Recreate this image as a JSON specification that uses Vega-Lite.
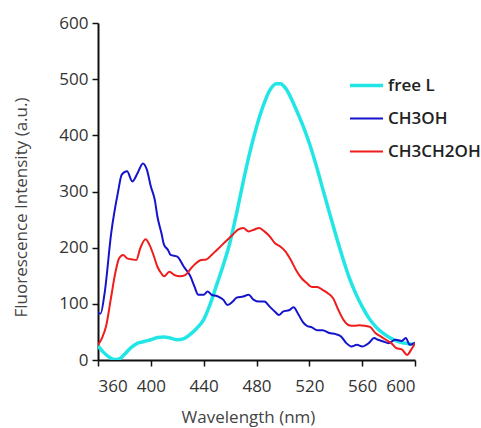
{
  "$schema": "https://vega.github.io/schema/vega-lite/v6.json",
  "width": 317,
  "height": 337,
  "autosize": "none",
  "padding": {"left": 98, "top": 23, "right": 66, "bottom": 68},
  "background": "white",
  "config": {
    "view": {"stroke": null},
    "font": "Open Sans",
    "axis": {
      "grid": false,
      "domainColor": "#111",
      "domainWidth": 2,
      "tickColor": "#111",
      "tickWidth": 1.5,
      "tickSize": 6,
      "labelFont": "Open Sans",
      "labelFontSize": 17,
      "labelColor": "#333",
      "titleFont": "Open Sans",
      "titleFontSize": 17,
      "titleFontWeight": "normal",
      "titleColor": "#444"
    }
  },
  "data": {"values": [
    {"wl": 360, "series": "free L", "v": 25},
    {"wl": 364, "series": "free L", "v": 14},
    {"wl": 368, "series": "free L", "v": 6},
    {"wl": 372, "series": "free L", "v": 1},
    {"wl": 376, "series": "free L", "v": 2},
    {"wl": 380, "series": "free L", "v": 10},
    {"wl": 385, "series": "free L", "v": 22},
    {"wl": 390, "series": "free L", "v": 30},
    {"wl": 395, "series": "free L", "v": 33},
    {"wl": 400, "series": "free L", "v": 36},
    {"wl": 405, "series": "free L", "v": 40},
    {"wl": 410, "series": "free L", "v": 41},
    {"wl": 415, "series": "free L", "v": 39},
    {"wl": 420, "series": "free L", "v": 36},
    {"wl": 425, "series": "free L", "v": 38},
    {"wl": 430, "series": "free L", "v": 46},
    {"wl": 435, "series": "free L", "v": 57},
    {"wl": 440, "series": "free L", "v": 72},
    {"wl": 445, "series": "free L", "v": 100},
    {"wl": 450, "series": "free L", "v": 135},
    {"wl": 455, "series": "free L", "v": 170},
    {"wl": 460, "series": "free L", "v": 210},
    {"wl": 465, "series": "free L", "v": 262},
    {"wl": 470, "series": "free L", "v": 318},
    {"wl": 475, "series": "free L", "v": 370},
    {"wl": 480, "series": "free L", "v": 415},
    {"wl": 485, "series": "free L", "v": 452},
    {"wl": 490, "series": "free L", "v": 480},
    {"wl": 495, "series": "free L", "v": 492},
    {"wl": 498, "series": "free L", "v": 492},
    {"wl": 502, "series": "free L", "v": 484},
    {"wl": 506, "series": "free L", "v": 467},
    {"wl": 510, "series": "free L", "v": 446},
    {"wl": 515, "series": "free L", "v": 418},
    {"wl": 520, "series": "free L", "v": 386},
    {"wl": 525, "series": "free L", "v": 348},
    {"wl": 530, "series": "free L", "v": 306},
    {"wl": 535, "series": "free L", "v": 264},
    {"wl": 540, "series": "free L", "v": 223},
    {"wl": 545, "series": "free L", "v": 184},
    {"wl": 550, "series": "free L", "v": 148},
    {"wl": 555, "series": "free L", "v": 119},
    {"wl": 560, "series": "free L", "v": 95},
    {"wl": 565, "series": "free L", "v": 75},
    {"wl": 570, "series": "free L", "v": 60},
    {"wl": 575, "series": "free L", "v": 49},
    {"wl": 580, "series": "free L", "v": 41},
    {"wl": 585, "series": "free L", "v": 35},
    {"wl": 590, "series": "free L", "v": 31},
    {"wl": 595, "series": "free L", "v": 29},
    {"wl": 600, "series": "free L", "v": 27},

    {"wl": 360, "series": "CH3OH", "v": 83},
    {"wl": 362, "series": "CH3OH", "v": 83},
    {"wl": 365, "series": "CH3OH", "v": 119},
    {"wl": 370, "series": "CH3OH", "v": 226},
    {"wl": 375, "series": "CH3OH", "v": 297},
    {"wl": 378, "series": "CH3OH", "v": 330},
    {"wl": 382, "series": "CH3OH", "v": 336},
    {"wl": 386, "series": "CH3OH", "v": 318},
    {"wl": 390, "series": "CH3OH", "v": 333},
    {"wl": 394, "series": "CH3OH", "v": 350},
    {"wl": 397, "series": "CH3OH", "v": 339},
    {"wl": 400, "series": "CH3OH", "v": 309},
    {"wl": 403, "series": "CH3OH", "v": 285},
    {"wl": 405, "series": "CH3OH", "v": 255},
    {"wl": 408, "series": "CH3OH", "v": 226},
    {"wl": 410, "series": "CH3OH", "v": 205},
    {"wl": 413, "series": "CH3OH", "v": 196},
    {"wl": 415, "series": "CH3OH", "v": 187},
    {"wl": 420, "series": "CH3OH", "v": 184},
    {"wl": 425, "series": "CH3OH", "v": 166},
    {"wl": 430, "series": "CH3OH", "v": 149},
    {"wl": 433, "series": "CH3OH", "v": 131},
    {"wl": 436, "series": "CH3OH", "v": 116},
    {"wl": 440, "series": "CH3OH", "v": 116},
    {"wl": 443, "series": "CH3OH", "v": 122},
    {"wl": 446, "series": "CH3OH", "v": 116},
    {"wl": 450, "series": "CH3OH", "v": 114},
    {"wl": 455, "series": "CH3OH", "v": 107},
    {"wl": 458, "series": "CH3OH", "v": 98},
    {"wl": 462, "series": "CH3OH", "v": 104},
    {"wl": 465, "series": "CH3OH", "v": 111},
    {"wl": 470, "series": "CH3OH", "v": 113},
    {"wl": 474, "series": "CH3OH", "v": 116},
    {"wl": 478, "series": "CH3OH", "v": 107},
    {"wl": 482, "series": "CH3OH", "v": 104},
    {"wl": 486, "series": "CH3OH", "v": 104},
    {"wl": 490, "series": "CH3OH", "v": 95},
    {"wl": 494, "series": "CH3OH", "v": 86},
    {"wl": 497, "series": "CH3OH", "v": 80},
    {"wl": 500, "series": "CH3OH", "v": 86},
    {"wl": 505, "series": "CH3OH", "v": 89},
    {"wl": 508, "series": "CH3OH", "v": 94},
    {"wl": 512, "series": "CH3OH", "v": 80},
    {"wl": 515, "series": "CH3OH", "v": 68},
    {"wl": 518, "series": "CH3OH", "v": 61},
    {"wl": 522, "series": "CH3OH", "v": 58},
    {"wl": 526, "series": "CH3OH", "v": 53},
    {"wl": 530, "series": "CH3OH", "v": 53},
    {"wl": 535, "series": "CH3OH", "v": 48},
    {"wl": 540, "series": "CH3OH", "v": 46},
    {"wl": 544, "series": "CH3OH", "v": 42},
    {"wl": 548, "series": "CH3OH", "v": 30},
    {"wl": 552, "series": "CH3OH", "v": 24},
    {"wl": 556, "series": "CH3OH", "v": 27},
    {"wl": 560, "series": "CH3OH", "v": 24},
    {"wl": 565, "series": "CH3OH", "v": 30},
    {"wl": 569, "series": "CH3OH", "v": 39},
    {"wl": 572, "series": "CH3OH", "v": 36},
    {"wl": 576, "series": "CH3OH", "v": 33},
    {"wl": 580, "series": "CH3OH", "v": 30},
    {"wl": 585, "series": "CH3OH", "v": 36},
    {"wl": 590, "series": "CH3OH", "v": 34},
    {"wl": 593, "series": "CH3OH", "v": 39},
    {"wl": 596, "series": "CH3OH", "v": 27},
    {"wl": 600, "series": "CH3OH", "v": 31},

    {"wl": 360, "series": "CH3CH2OH", "v": 27},
    {"wl": 363, "series": "CH3CH2OH", "v": 39},
    {"wl": 366, "series": "CH3CH2OH", "v": 59},
    {"wl": 370, "series": "CH3CH2OH", "v": 113},
    {"wl": 373, "series": "CH3CH2OH", "v": 154},
    {"wl": 376, "series": "CH3CH2OH", "v": 181},
    {"wl": 379, "series": "CH3CH2OH", "v": 187},
    {"wl": 382, "series": "CH3CH2OH", "v": 181},
    {"wl": 386, "series": "CH3CH2OH", "v": 179},
    {"wl": 389, "series": "CH3CH2OH", "v": 178},
    {"wl": 392, "series": "CH3CH2OH", "v": 199},
    {"wl": 396, "series": "CH3CH2OH", "v": 215},
    {"wl": 399, "series": "CH3CH2OH", "v": 205},
    {"wl": 402, "series": "CH3CH2OH", "v": 187},
    {"wl": 405, "series": "CH3CH2OH", "v": 166},
    {"wl": 408, "series": "CH3CH2OH", "v": 154},
    {"wl": 410, "series": "CH3CH2OH", "v": 149},
    {"wl": 414, "series": "CH3CH2OH", "v": 157},
    {"wl": 418, "series": "CH3CH2OH", "v": 151},
    {"wl": 422, "series": "CH3CH2OH", "v": 149},
    {"wl": 426, "series": "CH3CH2OH", "v": 151},
    {"wl": 430, "series": "CH3CH2OH", "v": 162},
    {"wl": 434, "series": "CH3CH2OH", "v": 172},
    {"wl": 438, "series": "CH3CH2OH", "v": 178},
    {"wl": 442, "series": "CH3CH2OH", "v": 179},
    {"wl": 446, "series": "CH3CH2OH", "v": 187},
    {"wl": 450, "series": "CH3CH2OH", "v": 196},
    {"wl": 454, "series": "CH3CH2OH", "v": 205},
    {"wl": 458, "series": "CH3CH2OH", "v": 214},
    {"wl": 462, "series": "CH3CH2OH", "v": 223},
    {"wl": 466, "series": "CH3CH2OH", "v": 232},
    {"wl": 470, "series": "CH3CH2OH", "v": 235},
    {"wl": 474, "series": "CH3CH2OH", "v": 229},
    {"wl": 478, "series": "CH3CH2OH", "v": 232},
    {"wl": 482, "series": "CH3CH2OH", "v": 235},
    {"wl": 486, "series": "CH3CH2OH", "v": 229},
    {"wl": 490, "series": "CH3CH2OH", "v": 220},
    {"wl": 494, "series": "CH3CH2OH", "v": 208},
    {"wl": 498, "series": "CH3CH2OH", "v": 202},
    {"wl": 502, "series": "CH3CH2OH", "v": 193},
    {"wl": 506, "series": "CH3CH2OH", "v": 178},
    {"wl": 510, "series": "CH3CH2OH", "v": 160},
    {"wl": 514, "series": "CH3CH2OH", "v": 146},
    {"wl": 518, "series": "CH3CH2OH", "v": 137},
    {"wl": 522, "series": "CH3CH2OH", "v": 130},
    {"wl": 526, "series": "CH3CH2OH", "v": 130},
    {"wl": 530, "series": "CH3CH2OH", "v": 125},
    {"wl": 534, "series": "CH3CH2OH", "v": 119},
    {"wl": 538, "series": "CH3CH2OH", "v": 110},
    {"wl": 542, "series": "CH3CH2OH", "v": 89},
    {"wl": 546, "series": "CH3CH2OH", "v": 71},
    {"wl": 550, "series": "CH3CH2OH", "v": 62},
    {"wl": 554, "series": "CH3CH2OH", "v": 61},
    {"wl": 558, "series": "CH3CH2OH", "v": 62},
    {"wl": 562, "series": "CH3CH2OH", "v": 61},
    {"wl": 566, "series": "CH3CH2OH", "v": 59},
    {"wl": 570, "series": "CH3CH2OH", "v": 48},
    {"wl": 574, "series": "CH3CH2OH", "v": 42},
    {"wl": 578, "series": "CH3CH2OH", "v": 36},
    {"wl": 582, "series": "CH3CH2OH", "v": 30},
    {"wl": 586, "series": "CH3CH2OH", "v": 21},
    {"wl": 590, "series": "CH3CH2OH", "v": 19},
    {"wl": 594, "series": "CH3CH2OH", "v": 9},
    {"wl": 597, "series": "CH3CH2OH", "v": 18},
    {"wl": 600, "series": "CH3CH2OH", "v": 30}
  ]},
  "mark": {"type": "line", "interpolate": "monotone", "clip": true},
  "encoding": {
    "x": {
      "field": "wl", "type": "quantitative",
      "scale": {"domain": [360, 600], "nice": false},
      "axis": {"values": [360, 400, 440, 480, 520, 560, 600], "title": "Wavelength (nm)", "labelPadding": 12, "titlePadding": 15, "titleX": 150}
    },
    "y": {
      "field": "v", "type": "quantitative",
      "scale": {"domain": [0, 600], "nice": false},
      "axis": {"values": [0, 100, 200, 300, 400, 500, 600], "title": "Fluorescence Intensity (a.u.)", "labelPadding": 4, "titlePadding": 28, "titleY": 184}
    },
    "color": {
      "field": "series", "type": "nominal",
      "scale": {"domain": ["free L", "CH3OH", "CH3CH2OH"], "range": ["#22e6e6", "#1414cc", "#ee1c1c"]},
      "legend": {
        "title": null,
        "orient": "none",
        "legendX": 250,
        "legendY": 44,
        "padding": 0,
        "symbolType": "stroke",
        "symbolSize": 1089,
        "symbolStrokeWidth": 3,
        "labelFont": "Open Sans",
        "labelFontSize": 17,
        "labelFontWeight": 600,
        "labelColor": "#222",
        "labelOffset": 3,
        "rowPadding": 7
      }
    },
    "strokeWidth": {
      "field": "series", "type": "nominal",
      "scale": {"type": "ordinal", "domain": ["free L", "CH3OH", "CH3CH2OH"], "range": [3.5, 2, 2]},
      "legend": null
    }
  }
}
